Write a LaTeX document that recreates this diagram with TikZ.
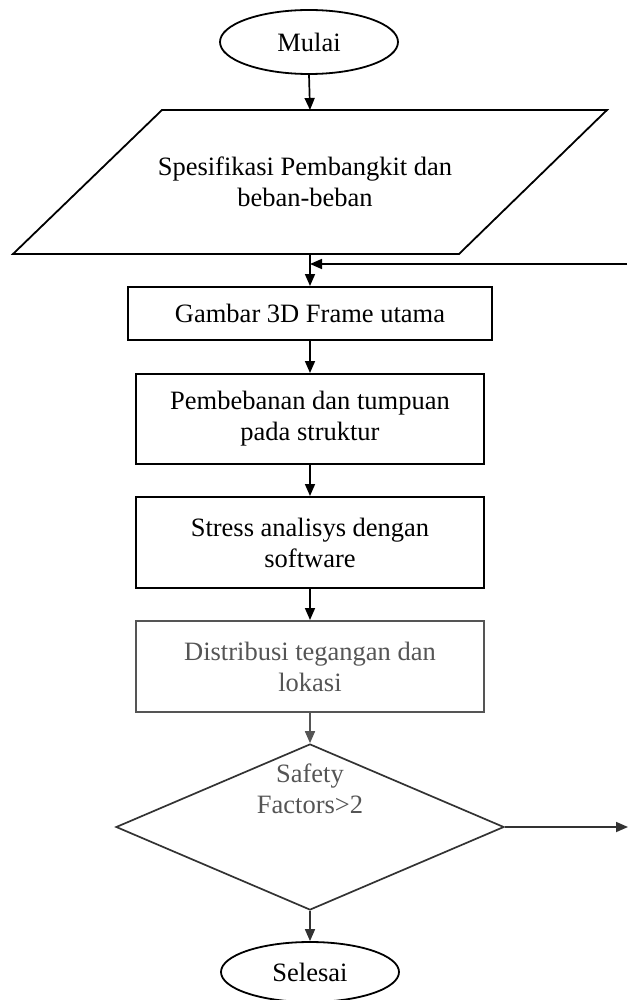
\documentclass[tikz,border=0pt]{standalone}
\usepackage{fontspec}
\setmainfont{Liberation Serif}
\usetikzlibrary{shapes.geometric,arrows.meta}
\definecolor{grayline}{HTML}{555555}
\definecolor{darkline}{HTML}{333333}
\begin{document}
\begin{tikzpicture}[x=1pt,y=-1pt,
  every node/.style={font=\fontsize{26.5}{31}\selectfont, align=center},
  term/.style={ellipse, draw, line width=1.8pt, minimum width=178pt, minimum height=64pt, inner sep=0pt},
  proc/.style={rectangle, draw, line width=2pt, inner sep=0pt},
  flow/.style={-{Triangle[length=12pt,width=10pt]}, line width=1.7pt},
]
\useasboundingbox (0,0) rectangle (627,1000);

% start
\node[term] (mulai) at (309,42) {Mulai};

% input parallelogram
\coordinate (pTL) at (162,110);
\coordinate (pTR) at (607,110);
\coordinate (pBR) at (459,254);
\coordinate (pBL) at (13,254);
\coordinate (pTop) at (310,110);
\coordinate (pBot) at (310,254);
\draw[line width=1.8pt] (pTL) -- (pTR) -- (pBR) -- (pBL) -- cycle;
\node (spec) at (305,182) {Spesifikasi Pembangkit dan\\beban-beban};

% processes
\node[proc, minimum width=364pt, minimum height=53pt] (gambar) at (310,313.5) {Gambar 3D Frame utama};
\node[proc, minimum width=348pt, minimum height=90pt] (beban) at (310,419) {Pembebanan dan tumpuan\\pada struktur};
\node[proc, minimum width=348pt, minimum height=91pt] (stress) at (310,542.5) {Stress analisys dengan\\software};
\node[proc, draw=grayline, text=grayline, minimum width=348pt, minimum height=91pt] (distri) at (310,666.5) {Distribusi tegangan dan\\lokasi};

% decision
\node[diamond, draw=darkline, line width=1.7pt, minimum width=388pt, minimum height=166pt, inner sep=0pt] (safety) at (310,827) {};
\node[text=grayline] (safetytxt) at (310,789) {Safety\\Factors>2};

% end
\node[term, minimum height=60pt] (selesai) at (310,972) {Selesai};

% feedback / exit ends
\coordinate (fbR) at (627,264);
\coordinate (fbL) at (310,264);
\coordinate (exitR) at (628,827);

% connectors
\draw[flow] (mulai.south) -- (pTop);
\draw[flow] (pBot) -- (gambar.north);
\draw[flow] (fbR) -- (fbL);
\draw[flow] (gambar.south) -- (beban.north);
\draw[flow] (beban.south) -- (stress.north);
\draw[flow] (stress.south) -- (distri.north);
\draw[flow, grayline] (distri.south) -- (safety.north);
\draw[flow, darkline] (safety.east) -- (exitR);
\draw[flow, darkline] (safety.south) -- (selesai.north);
\end{tikzpicture}
\end{document}
